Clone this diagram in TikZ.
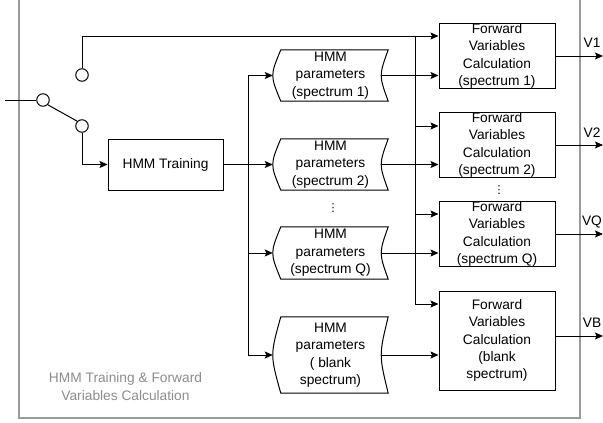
\documentclass[tikz,border=0pt]{standalone}
\usepackage{fontspec}
\setmainfont{Liberation Sans}
\newfontfamily\symfont{DejaVu Sans}
\usetikzlibrary{arrows.meta}
\definecolor{framegray}{HTML}{9A9A9A}
\definecolor{capgray}{HTML}{8C8C8C}
\begin{document}
\begin{tikzpicture}[x=1pt,y=-1pt,
  every node/.style={font=\fontsize{13.75}{17.4}\selectfont, align=center, inner sep=0pt},
  wire/.style={line width=1pt, black},
  arr/.style={wire, -{Stealth[length=8pt,width=7pt,inset=1.5pt]}},
  box/.style={draw, line width=1pt, rectangle},
  store/.style={rectangle, minimum width=115pt},
  pin/.style={draw, line width=1pt, circle, minimum size=12.5pt},
  dots/.style={font=\symfont\fontsize{11}{13}\selectfont},
]
\useasboundingbox (0,0) rectangle (603,423);
% frame
\draw[framegray, line width=1.3pt] (19,0) -- (19,418) -- (580,418) -- (580,0);
\node[text=capgray] (cap) at (125.5,386.5) {HMM Training \& Forward\\Variables Calculation};

% switch
\coordinate (in) at (5,100);
\node[pin] (c0) at (43,100) {};
\node[pin] (cu) at (82,75) {};
\node[pin] (cd) at (82,126) {};
\draw[wire] (in) -- (c0.west);
\draw[wire] (c0.south east) -- (cd.north west);

% HMM training
\node[box, minimum width=115pt, minimum height=51pt] (tr) at (165.5,164.5) {HMM Training};

% HMM parameter stores
\newcommand{\storeshape}[1]{%
  \draw[line width=1pt] ([xshift=8pt]#1.north west) .. controls ([xshift=-2.7pt]#1.west) .. ([xshift=8pt]#1.south west)
    -- (#1.south east) .. controls ([xshift=-9.3pt]#1.east) .. (#1.north east) -- cycle;}
\node[store, minimum height=51pt] (p1) at (330.5,75.5) {HMM\\parameters\\(spectrum 1)};
\node[store, minimum height=51pt] (p2) at (330.5,164.5) {HMM\\parameters\\(spectrum 2)};
\node[store, minimum height=52pt] (pq) at (330.5,253) {HMM\\parameters\\(spectrum Q)};
\node[store, minimum height=76pt] (pb) at (330.5,355) {HMM\\parameters\\( blank\\spectrum)};
\storeshape{p1}\storeshape{p2}\storeshape{pq}\storeshape{pb}
\node[dots] (d1) at (333,208) {⋮};

% forward boxes
\node[box, minimum width=116pt, minimum height=64pt] (f1) at (497,56) {Forward\\Variables\\Calculation\\(spectrum 1)};
\node[box, minimum width=116pt, minimum height=64pt] (f2) at (497,145) {Forward\\Variables\\Calculation\\(spectrum 2)};
\node[box, minimum width=116pt, minimum height=62pt] (fq) at (497,234) {Forward\\Variables\\Calculation\\(spectrum Q)};
\node[box, minimum width=116pt, minimum height=99pt] (fb) at (497,340.5) {Forward\\Variables\\Calculation\\(blank\\spectrum)};
\node[dots] (d2) at (499,190) {⋮};

% top line from upper pin
\coordinate (tl) at (82,36);
\draw[arr] (cu.north) -- (tl) -- (f1.west |- tl);
% bus to forward boxes
\coordinate (bt) at (415,36);
\coordinate (bb) at (415,304);
\draw[wire] (bt) -- (bb);
\draw[arr] (bb) -- (fb.west |- bb);
\draw[arr] (415,126) -- (f2.west |- 0,126);
\draw[arr] (415,214) -- (fq.west |- 0,214);

% lower pin to training
\draw[arr] (cd.south) -- (82,164.5) -- (tr.west);
% training to stores
\coordinate (st) at (248,75.5);
\coordinate (sb) at (248,355);
\draw[wire] (tr.east) -- (248,164.5);
\draw[wire] (st) -- (sb);
\draw[arr] (st) -- (p1.west);
\draw[arr] (248,164.5) -- (p2.west);
\draw[arr] (248,253) -- (pq.west);
\draw[arr] (sb) -- (pb.west);

% stores to forward
\draw[arr] ([xshift=-7pt]p1.east) -- (f1.west |- p1.east);
\draw[arr] ([xshift=-7pt]p2.east) -- (f2.west |- p2.east);
\draw[arr] ([xshift=-7pt]pq.east) -- (fq.west |- pq.east);
\draw[arr] ([xshift=-7pt]pb.east) -- (fb.west |- pb.east);

% outputs
\coordinate (o1) at (603,56);
\coordinate (o2) at (603,145);
\coordinate (oq) at (603,234);
\coordinate (ob) at (603,336);
\draw[arr] (f1.east) -- (o1);
\draw[arr] (f2.east) -- (o2);
\draw[arr] (fq.east) -- (oq);
\draw[arr] (f1.east |- ob) -- (ob);
\node (v1) at (592,43) {V1};
\node (v2) at (592,133) {V2};
\node (vq) at (592,222) {VQ};
\node (vb) at (592,323) {VB};
\end{tikzpicture}
\end{document}
